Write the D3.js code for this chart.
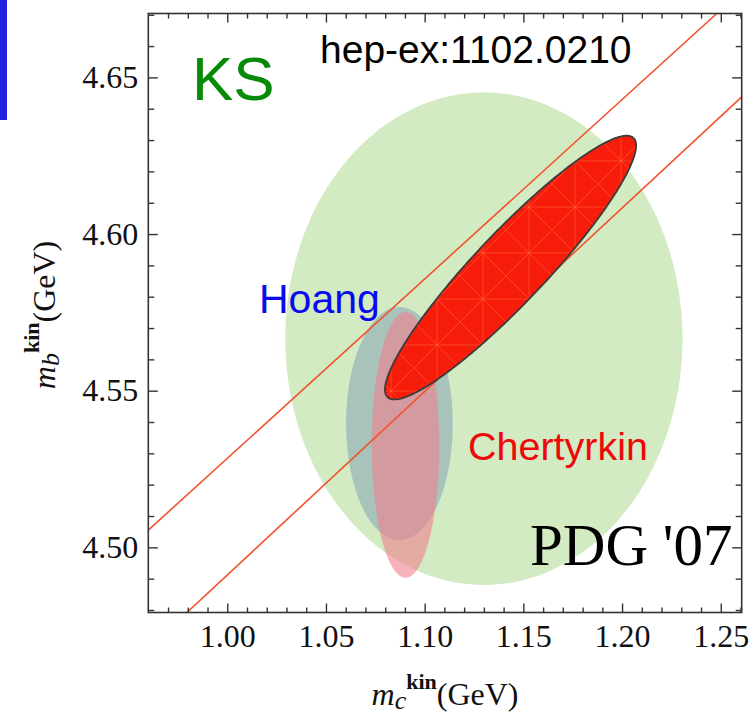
<!DOCTYPE html>
<html>
<head>
<meta charset="utf-8">
<script src="https://cdn.jsdelivr.net/npm/d3@7"></script>
<style>
  body { margin: 0; background: #fff; }
  svg { display: block; }
</style>
</head>
<body>
<svg id="chart" width="753" height="716"></svg>
<script>
// ---- axis ticks ----
const xMajorTicks = [1.00, 1.05, 1.10, 1.15, 1.20, 1.25];
const xTickLabels = ["1.00", "1.05", "1.10", "1.15", "1.20", "1.25"];
const yMajorTicks = [4.50, 4.55, 4.60, 4.65];
const yTickLabels = ["4.50", "4.55", "4.60", "4.65"];

// ---- confidence regions in the (m_c, m_b) plane ----
const regionNames = ["PDG '07", "Hoang", "Chetyrkin", "KS"];
const centerMc   = [1.1300, 1.0872, 1.0903, 1.1435];
const centerMb   = [4.5666, 4.5395, 4.5327, 4.5893];
const sigmaMc    = [0.1006, 0.0270, 0.0171, 0.0636];
const sigmaMb    = [0.0786, 0.0372, 0.0424, 0.0421];
const corrMcMb   = [0.0, 0.0, 0.0, 0.925];

// ---- constraint band edges (two points each) ----
const bandUpperMc = [0.9600, 1.2480];
const bandUpperMb = [4.5055, 4.6704];
const bandLowerMc = [0.9794, 1.2606];
const bandLowerMb = [4.4791, 4.6438];

const svg = d3.select("#chart");
const L = 148.3, R = 741.7, T = 13.5, B = 612.5;

const x = d3.scaleLinear().domain([0.96, 1.2606]).range([L, R]);
const y = d3.scaleLinear().domain([4.4792, 4.6704]).range([B, T]);

// Clip region = plot frame
svg.append("defs").append("clipPath").attr("id", "plotclip")
  .append("rect").attr("x", L).attr("y", T).attr("width", R - L).attr("height", B - T);

// Hatch texture for the KS region
const pat = svg.select("defs").append("pattern")
  .attr("id", "kshatch").attr("patternUnits", "userSpaceOnUse")
  .attr("width", 46).attr("height", 46);
pat.append("rect").attr("width", 46).attr("height", 46).attr("fill", "#f81c0a");
pat.append("path")
  .attr("d", "M0,0 L46,46 M46,0 L0,46 M23,0 V46 M0,23 H46")
  .attr("stroke", "rgba(255,130,70,0.40)").attr("stroke-width", 1).attr("fill", "none");

// Blue marker at top-left
svg.append("rect").attr("x", 0).attr("y", 0).attr("width", 7).attr("height", 120).attr("fill", "#2222dd");

const plot = svg.append("g").attr("clip-path", "url(#plotclip)");

// Build an error ellipse outline from centre, widths and correlation
function ellipsePoints(i) {
  const rho = corrMcMb[i], s = Math.sqrt(1 - rho * rho);
  return d3.range(0, 360).map(k => {
    const t = k * Math.PI / 180;
    const mc = centerMc[i] + sigmaMc[i] * Math.cos(t);
    const mb = centerMb[i] + sigmaMb[i] * (rho * Math.cos(t) + s * Math.sin(t));
    return [x(mc), y(mb)];
  });
}
const closed = d3.line().curve(d3.curveLinearClosed);

const fills = ["#d3ebc3", "#a8c2bc", "rgba(240,128,140,0.6)", "url(#kshatch)"];

[0, 1, 2].forEach(i => {
  plot.append("path").attr("d", closed(ellipsePoints(i))).attr("fill", fills[i]).attr("stroke", "none");
});

// Band edges
const seg = d3.line();
[[bandUpperMc, bandUpperMb], [bandLowerMc, bandLowerMb]].forEach(([mc, mb]) => {
  plot.append("path")
    .attr("d", seg(mc.map((v, k) => [x(v), y(mb[k])])))
    .attr("stroke", "#f2532c").attr("stroke-width", 1.6).attr("fill", "none");
});

// KS region on top
plot.append("path").attr("d", closed(ellipsePoints(3)))
  .attr("fill", fills[3]).attr("stroke", "#3c3c3c").attr("stroke-width", 1.8);

// ---- axes ----
const xMinor = d3.range(97, 127).map(v => v / 100).filter(v => !xMajorTicks.some(m => Math.abs(m - v) < 1e-6));
const yMinor = d3.range(448, 468).map(v => v / 100).filter(v => !yMajorTicks.some(m => Math.abs(m - v) < 1e-6));

function styleAxis(g) {
  g.select(".domain").remove();
  g.selectAll(".tick line").attr("stroke", "#333").attr("stroke-width", 1.4);
  g.selectAll("text").attr("font-family", "'Liberation Serif', 'Times New Roman', serif")
    .attr("font-size", 32).attr("fill", "#111");
}

// bottom
svg.append("g").attr("transform", `translate(0,${B})`)
  .call(d3.axisBottom(x).tickValues(xMajorTicks).tickSize(-9).tickPadding(11.5)
    .tickFormat((d, i) => xTickLabels[i])).call(styleAxis);
svg.append("g").attr("transform", `translate(0,${B})`)
  .call(d3.axisBottom(x).tickValues(xMinor).tickSize(-5).tickFormat("")).call(styleAxis);
// top
svg.append("g").attr("transform", `translate(0,${T})`)
  .call(d3.axisTop(x).tickValues(xMajorTicks).tickSize(-9).tickFormat("")).call(styleAxis);
svg.append("g").attr("transform", `translate(0,${T})`)
  .call(d3.axisTop(x).tickValues(xMinor).tickSize(-5).tickFormat("")).call(styleAxis);
// left
svg.append("g").attr("transform", `translate(${L},0)`)
  .call(d3.axisLeft(y).tickValues(yMajorTicks).tickSize(-9.5).tickPadding(10)
    .tickFormat((d, i) => yTickLabels[i])).call(styleAxis);
svg.append("g").attr("transform", `translate(${L},0)`)
  .call(d3.axisLeft(y).tickValues(yMinor).tickSize(-6).tickFormat("")).call(styleAxis);
// right
svg.append("g").attr("transform", `translate(${R},0)`)
  .call(d3.axisRight(y).tickValues(yMajorTicks).tickSize(-9.5).tickFormat("")).call(styleAxis);
svg.append("g").attr("transform", `translate(${R},0)`)
  .call(d3.axisRight(y).tickValues(yMinor).tickSize(-6).tickFormat("")).call(styleAxis);

// frame
svg.append("rect").attr("x", L).attr("y", T).attr("width", R - L).attr("height", B - T)
  .attr("fill", "none").attr("stroke", "#333").attr("stroke-width", 1.6);

// ---- axis titles ----
const serif = "'Liberation Serif', 'Times New Roman', serif";
function axisTitle(g, sub) {
  const t = g.append("text").attr("font-family", serif).attr("fill", "#111").attr("text-anchor", "middle");
  t.append("tspan").attr("font-style", "italic").attr("font-size", 32).text("m");
  t.append("tspan").attr("font-style", "italic").attr("font-size", 26).attr("dy", 4).text(sub);
  t.append("tspan").attr("font-weight", "bold").attr("font-size", 22).attr("dy", -20).text("kin");
  t.append("tspan").attr("font-size", 32).attr("dy", 16).text("(GeV)");
  return t;
}
axisTitle(svg.append("g").attr("transform", "translate(445,705)"), "c");
axisTitle(svg.append("g").attr("transform", "translate(55,315) rotate(-90)"), "b");

// ---- annotations ----
const sans = "'Liberation Sans', Arial, sans-serif";
svg.append("text").attr("x", 192).attr("y", 100).attr("font-family", sans).attr("font-size", 62)
  .attr("fill", "#078a07").text("KS");
svg.append("text").attr("x", 320).attr("y", 63).attr("font-family", sans).attr("font-size", 39)
  .attr("fill", "#000").text("hep-ex:1102.0210");
svg.append("text").attr("x", 259).attr("y", 312.7).attr("font-family", sans).attr("font-size", 41)
  .attr("fill", "#0a0aee").text("Hoang");
svg.append("text").attr("x", 468).attr("y", 460).attr("font-family", sans).attr("font-size", 39.5)
  .attr("fill", "#ee0808").text("Chertyrkin");
svg.append("text").attr("x", 530).attr("y", 565).attr("font-family", serif).attr("font-size", 59)
  .attr("fill", "#000").text("PDG '07");
</script>
</body>
</html>
